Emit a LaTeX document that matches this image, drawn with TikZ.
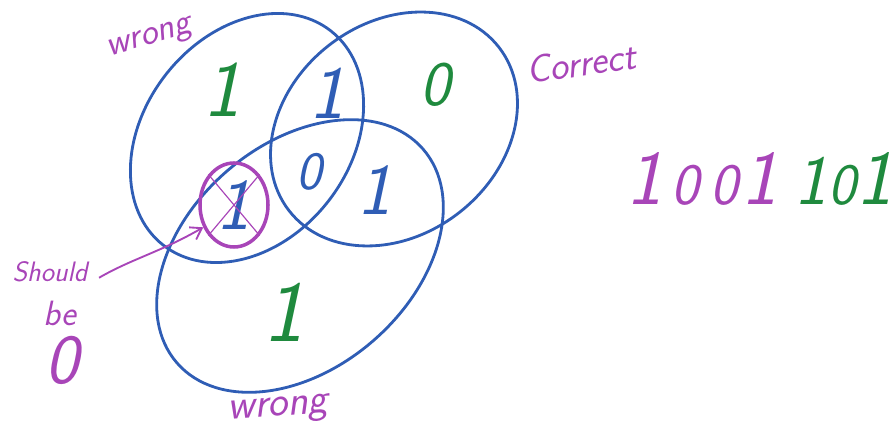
\documentclass[tikz,border=0pt]{standalone}
\usepackage{fontspec}
\usepackage{tikz}
\usetikzlibrary{arrows.meta,shapes.geometric}
\definecolor{pen}{HTML}{2F5DB5}
\definecolor{pgreen}{HTML}{1F8A3E}
\definecolor{pmag}{HTML}{A845B8}

\begin{document}
\begin{tikzpicture}[x=0.03cm, y=0.03cm,
  ring/.style={draw=pen, line width=2.4pt},
  bit/.style={font=\fontsize{#1}{#1}\sffamily\slshape, inner sep=0pt},
  bit/.default=62,
  note/.style={text=pmag, font=\fontsize{#1}{#1}\sffamily\slshape, inner sep=1pt},
  fix/.style={bit, text=pen, ellipse, draw=pmag, line width=3pt, minimum width=2.04cm, minimum height=2.52cm}]
 \useasboundingbox (0,0) rectangle (895,431);
 % the three parity circles
 \draw[ring] (247,293) ellipse [x radius=136, y radius=103, rotate=52];
 \draw[ring] (394,302) ellipse [x radius=133, y radius=106, rotate=38];
 \draw[ring] (300,175) ellipse [x radius=163, y radius=112, rotate=41];
 % bits in the regions
 \node[bit=68, text=pgreen] (a) at (222,341) {1};
 \node[bit=64, text=pen] (ab) at (327,338) {1};
 \node[bit=54, text=pgreen] (b) at (435,346) {0};
 \node[bit=46, text=pen] (abc) at (309,259) {0};
 \node[bit=62, text=pen] (bc) at (375,241) {1};
 \node[bit=74, text=pgreen] (c) at (284,119) {1};
 \node[fix] (fix) at (234,226) {1};
 \draw[pmag, line width=1pt] (fix.130) -- (fix.-50) (fix.50) -- (fix.230);
 % labels
 \node[note=31, rotate=16] (wtop) at (150,391) {wrong};
 \node[note=33, rotate=8] (corr) at (581,368) {Correct};
 \node[note=36, rotate=4] (wbot) at (278,20) {wrong};
 \node[note=24] (should) at (50,159) {Should};
 \node[note=30] (be) at (60,118) {be};
 \node[note=60] (zero) at (62,71) {0};
 \draw[pmag, line width=1.6pt, shorten <=10pt, -{Straight Barb[length=9pt,width=12pt]}] (should.south east) to[out=30, in=210] (fix.216);
 % the code word
 \foreach \x/\d/\s/\c [count=\i] in {645/1/66/pmag, 685/0/50/pmag, 724/0/50/pmag, 760/1/66/pmag, 811/1/60/pgreen, 842/0/50/pgreen, 875/1/66/pgreen}
  \node[bit=\s, text=\c, anchor=base] (seq\i) at (\x,226) {\d};
\end{tikzpicture}
\end{document}
